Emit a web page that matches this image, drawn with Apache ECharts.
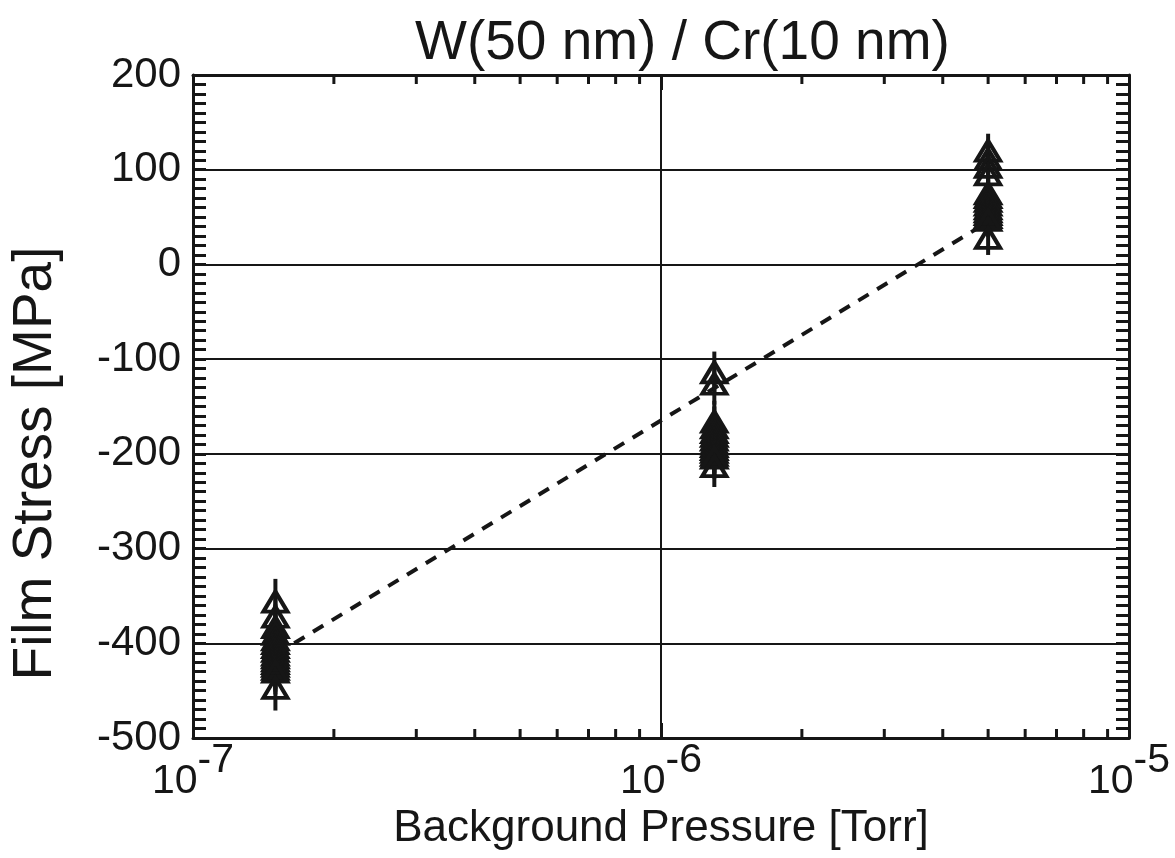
<!DOCTYPE html>
<html>
<head>
<meta charset="utf-8">
<script src="https://cdn.jsdelivr.net/npm/echarts@6/dist/echarts.min.js"></script>
<style>html,body{margin:0;padding:0;background:#fff}#c{width:1175px;height:858px}</style>
</head>
<body>
<div id="c"></div>
<script>
// ---- data ----
const pressures = [1.5e-7, 1.3e-6, 5.0e-6];
const stressG1 = [-356, -372, -383, -390, -396, -400, -404, -408, -412, -415, -418, -421, -424, -427, -430, -447];
const stressG2 = [-114, -126, -166, -172, -177, -181, -185, -189, -192, -195, -198, -201, -204, -213];
const stressG3 = [120, 111, 103, 95, 75, 71, 67, 63, 59, 56, 53, 50, 47, 28];
const errG = [24, 22, 18];
const fitX = [1.5e-7, 5.0e-6];
const fitY = [-412, 45];
const xMinorTicks = [2e-7, 3e-7, 4e-7, 5e-7, 6e-7, 7e-7, 8e-7, 9e-7, 2e-6, 3e-6, 4e-6, 5e-6, 6e-6, 7e-6, 8e-6, 9e-6];
const xTickValues = [1e-7, 1e-6, 1e-5];
const xTickSup = ['-7', '-6', '-5'];
const yMin = -500, yMax = 200, yStep = 100;

const INK = '#161616';
const groups = [stressG1, stressG2, stressG3];
const points = [];
const bars = [];
groups.forEach((g, i) => {
  g.forEach(v => {
    points.push([pressures[i], v]);
    bars.push([pressures[i], v - errG[i], v + errG[i]]);
  });
});

function supLabel(v) {
  const e = Math.round(Math.log10(v));
  const idx = xTickValues.findIndex(t => Math.abs(Math.log10(t) - e) < 1e-6);
  const s = idx >= 0 ? xTickSup[idx] : String(e);
  return '{b|10}{s|' + s + '}';
}

const chart = echarts.init(document.getElementById('c'), null, {renderer: 'canvas'});
const font = 'Liberation Sans, Arial, sans-serif';
chart.setOption({
  backgroundColor: '#fff',
  animation: false,
  title: {
    text: 'W(50 nm) / Cr(10 nm)',
    left: 410, top: 11,
    textStyle: {fontFamily: font, fontSize: 55, fontWeight: 'normal', color: INK}
  },
  grid: {left: 192, right: 46, top: 75, bottom: 120, containLabel: false},
  xAxis: [{
    type: 'log', logBase: 10, min: 1e-7, max: 1e-5,
    name: 'Background Pressure [Torr]', nameLocation: 'middle', nameGap: 68,
    nameTextStyle: {fontFamily: font, fontSize: 44, color: INK},
    axisLine: {show: true, onZero: false, lineStyle: {color: INK, width: 3}},
    axisTick: {show: true, inside: true, length: 15, lineStyle: {color: INK, width: 3}},
    minorTick: {show: false},
    splitLine: {show: true, lineStyle: {color: INK, width: 2}},
    axisLabel: {
      margin: 2, formatter: supLabel,
      rich: {
        b: {fontFamily: font, fontSize: 41, color: INK, lineHeight: 62, verticalAlign: 'bottom'},
        s: {fontFamily: font, fontSize: 41, color: INK, verticalAlign: 'top', lineHeight: 40}
      }
    }
  }, {
    type: 'log', logBase: 10, min: 1e-7, max: 1e-5, position: 'top',
    axisLine: {show: true, onZero: false, lineStyle: {color: INK, width: 3}},
    axisTick: {show: true, inside: true, length: 15, lineStyle: {color: INK, width: 3}},
    axisLabel: {show: false}, splitLine: {show: false}
  }],
  yAxis: [{
    type: 'value', min: yMin, max: yMax, interval: yStep,
    name: 'Film Stress [MPa]', nameLocation: 'middle', nameGap: 130,
    nameTextStyle: {fontFamily: font, fontSize: 55, color: INK, padding: [0, 114, 0, 0]},
    axisLine: {show: true, onZero: false, lineStyle: {color: INK, width: 3}},
    axisTick: {show: true, inside: true, length: 13, lineStyle: {color: INK, width: 3}},
    minorTick: {show: true, splitNumber: 10, length: 13, lineStyle: {color: INK, width: 3}},
    splitLine: {show: true, lineStyle: {color: INK, width: 2}},
    axisLabel: {margin: 12, fontFamily: font, fontSize: 42, color: INK}
  }, {
    type: 'value', min: yMin, max: yMax, interval: yStep, position: 'right',
    axisLine: {show: true, onZero: false, lineStyle: {color: INK, width: 3}},
    axisTick: {show: true, inside: true, length: 13, lineStyle: {color: INK, width: 3}},
    minorTick: {show: true, splitNumber: 10, length: 13, lineStyle: {color: INK, width: 3}},
    splitLine: {show: false}, axisLabel: {show: false}
  }],
  series: [
    {
      type: 'custom', name: 'xminor', xAxisIndex: 0, yAxisIndex: 0,
      data: xMinorTicks.map(v => [v]),
      silent: true, clip: false, z: 3,
      renderItem: function (params, api) {
        const v = api.value(0);
        const b = api.coord([v, yMin]);
        const t = api.coord([v, yMax]);
        return {type: 'group', children: [
          {type: 'line', shape: {x1: b[0], y1: b[1], x2: b[0], y2: b[1] - 9}, style: {stroke: INK, lineWidth: 3}},
          {type: 'line', shape: {x1: t[0], y1: t[1], x2: t[0], y2: t[1] + 9}, style: {stroke: INK, lineWidth: 3}}
        ]};
      }
    },
    {
      type: 'line', name: 'fit',
      data: fitX.map((x, i) => [x, fitY[i]]),
      symbol: 'none', z: 4,
      lineStyle: {color: INK, width: 4, type: [12, 10]}
    },
    {
      type: 'custom', name: 'err',
      data: bars, z: 5, silent: true,
      renderItem: function (params, api) {
        const p1 = api.coord([api.value(0), api.value(1)]);
        const p2 = api.coord([api.value(0), api.value(2)]);
        return {type: 'line', shape: {x1: p1[0], y1: p1[1], x2: p2[0], y2: p2[1]}, style: {stroke: INK, lineWidth: 4}};
      }
    },
    {
      type: 'scatter', name: 'stress',
      data: points, z: 6,
      symbol: 'triangle', symbolSize: [24, 20],
      itemStyle: {color: 'rgba(0,0,0,0)', borderColor: INK, borderWidth: 4, opacity: 1}
    }
  ]
});
</script>
</body>
</html>
